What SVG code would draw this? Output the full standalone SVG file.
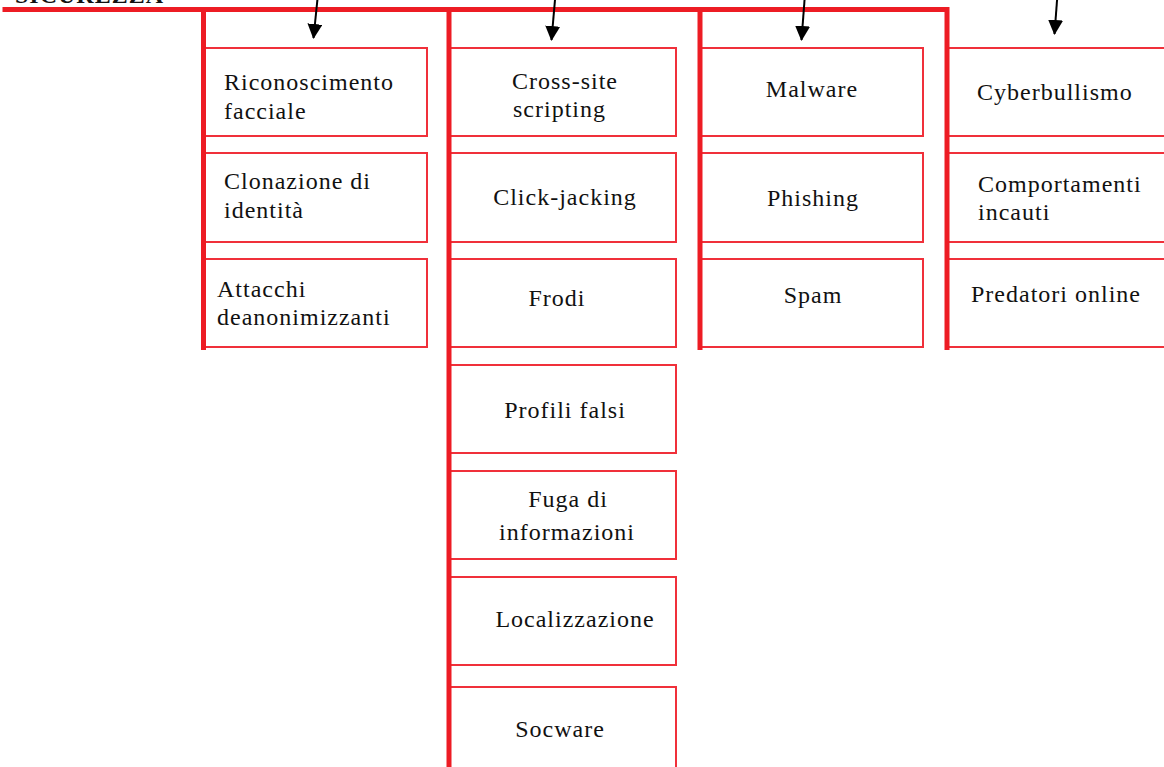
<svg xmlns="http://www.w3.org/2000/svg" width="1164" height="767" viewBox="0 0 1164 767">
<style>
.box{fill:#fff;stroke:#f0303a;stroke-width:2}
.bar{stroke:#ed1c24;stroke-width:5;fill:none;stroke-linecap:square}
.arr{stroke:#000;stroke-width:2;fill:none}
text{font-family:"Liberation Serif","Times New Roman",serif;font-size:24px;fill:#111;letter-spacing:1px}
.title{font-weight:bold}
</style>
<defs>
<marker id="ah" markerWidth="15" markerHeight="15" viewBox="0 0 15 15" refX="14" refY="7.5" orient="auto" markerUnits="userSpaceOnUse">
<path d="M0,0 L15,7.5 L0,15 Z" fill="#000"/>
</marker>
</defs>
<rect width="1164" height="767" fill="#fff"/>
<text class="title" x="15" y="3">SICUREZZA</text>

<g id="n-riconoscimento"><rect class="box" x="204" y="48" width="223" height="88"/><text x="224" y="90">Riconoscimento</text><text x="224" y="119">facciale</text></g>
<g id="n-clonazione"><rect class="box" x="204" y="153" width="223" height="89"/><text x="224" y="189">Clonazione di</text><text x="224" y="218">identità</text></g>
<g id="n-attacchi"><rect class="box" x="204" y="259" width="223" height="88"/><text x="217" y="297">Attacchi</text><text x="217" y="325">deanonimizzanti</text></g>

<g id="n-xss"><rect class="box" x="449" y="48" width="227" height="88"/><text x="512" y="89">Cross-site</text><text x="513" y="117">scripting</text></g>
<g id="n-clickjacking"><rect class="box" x="449" y="153" width="227" height="89"/><text x="565" y="205" text-anchor="middle">Click-jacking</text></g>
<g id="n-frodi"><rect class="box" x="449" y="259" width="227" height="88"/><text x="557" y="306" text-anchor="middle">Frodi</text></g>
<g id="n-profili"><rect class="box" x="449" y="365" width="227" height="88"/><text x="565" y="418" text-anchor="middle">Profili falsi</text></g>
<g id="n-fuga"><rect class="box" x="449" y="471" width="227" height="88"/><text x="568" y="507" text-anchor="middle">Fuga di</text><text x="567" y="540" text-anchor="middle">informazioni</text></g>
<g id="n-localizzazione"><rect class="box" x="449" y="577" width="227" height="88"/><text x="575" y="627" text-anchor="middle">Localizzazione</text></g>
<g id="n-socware"><rect class="box" x="449" y="687" width="227" height="100"/><text x="560" y="737" text-anchor="middle">Socware</text></g>

<g id="n-malware"><rect class="box" x="700" y="48" width="223" height="88"/><text x="812" y="97" text-anchor="middle">Malware</text></g>
<g id="n-phishing"><rect class="box" x="700" y="153" width="223" height="89"/><text x="813" y="206" text-anchor="middle">Phishing</text></g>
<g id="n-spam"><rect class="box" x="700" y="259" width="223" height="88"/><text x="813" y="303" text-anchor="middle">Spam</text></g>

<g id="n-cyberbullismo"><rect class="box" x="947" y="48" width="230" height="88"/><text x="977" y="100">Cyberbullismo</text></g>
<g id="n-comportamenti"><rect class="box" x="947" y="153" width="230" height="89"/><text x="978" y="192">Comportamenti</text><text x="978" y="220">incauti</text></g>
<g id="n-predatori"><rect class="box" x="947" y="259" width="230" height="88"/><text x="971" y="302">Predatori online</text></g>

<g id="connectors">
<path class="bar" d="M5,9.5 H947 V347.5"/>
<path class="bar" d="M203.5,9.5 V347.5"/>
<path class="bar" d="M449,9.5 V770"/>
<path class="bar" d="M700,9.5 V347.5"/>
<line class="arr" x1="318" y1="-6" x2="313.5" y2="38" marker-end="url(#ah)"/>
<line class="arr" x1="555.5" y1="-6" x2="551.5" y2="40" marker-end="url(#ah)"/>
<line class="arr" x1="805" y1="-6" x2="801.5" y2="40" marker-end="url(#ah)"/>
<line class="arr" x1="1057.5" y1="-6" x2="1054.5" y2="34" marker-end="url(#ah)"/>
</g>
</svg>
